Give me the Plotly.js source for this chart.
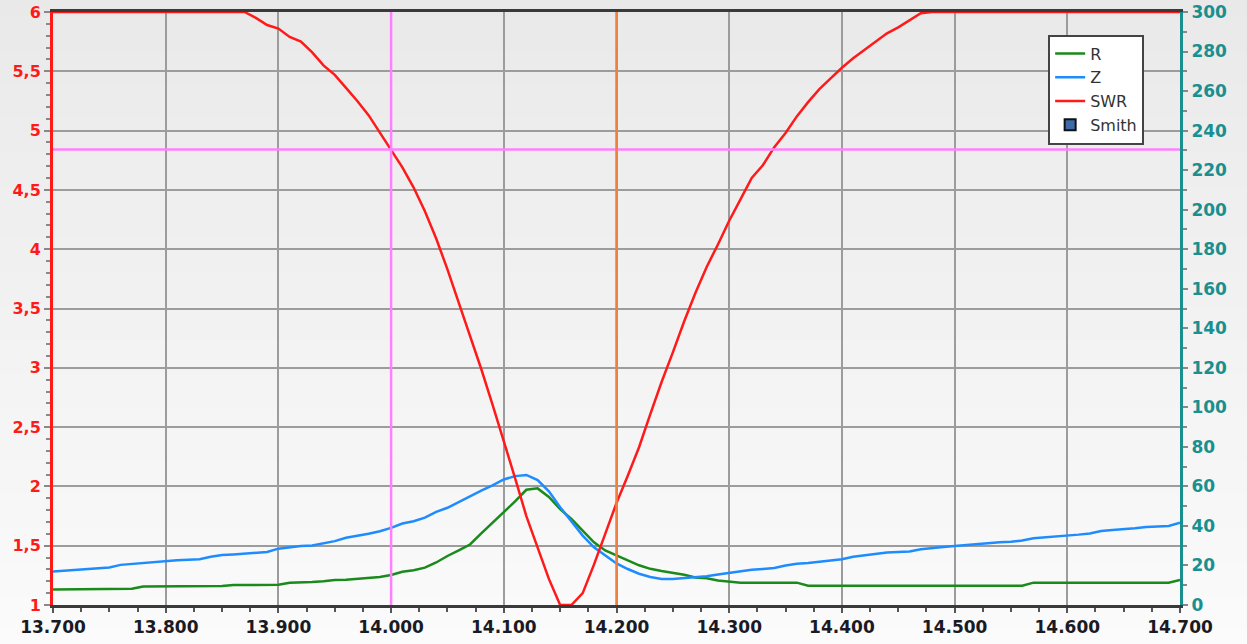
<!DOCTYPE html>
<html><head><meta charset="utf-8">
<script src="https://cdn.plot.ly/plotly-3.0.1.min.js"></script>
<style>html,body{margin:0;padding:0;background:#f0f0f0}#chart{width:1247px;height:644px}</style>
</head><body><div id="chart"></div>
<script>
// Frequency (MHz)
const freqMHz = [
13.70,13.71,13.72,13.73,13.74,13.75,13.76,13.77,13.78,13.79,
13.80,13.81,13.82,13.83,13.84,13.85,13.86,13.87,13.88,13.89,
13.90,13.91,13.92,13.93,13.94,13.95,13.96,13.97,13.98,13.99,
14.00,14.01,14.02,14.03,14.04,14.05,14.06,14.07,14.08,14.09,
14.10,14.11,14.12,14.13,14.14,14.15,14.16,14.17,14.18,14.19,
14.20,14.21,14.22,14.23,14.24,14.25,14.26,14.27,14.28,14.29,
14.30,14.31,14.32,14.33,14.34,14.35,14.36,14.37,14.38,14.39,
14.40,14.41,14.42,14.43,14.44,14.45,14.46,14.47,14.48,14.49,
14.50,14.51,14.52,14.53,14.54,14.55,14.56,14.57,14.58,14.59,
14.60,14.61,14.62,14.63,14.64,14.65,14.66,14.67,14.68,14.69,
14.70];
// SWR (left axis)
const swrValues = [
6,6,6,6,6,6,6,6,6,6,
6,6,6,6,6,6,6,6,5.95,5.89,
5.86,5.79,5.75,5.66,5.55,5.47,5.36,5.25,5.13,4.98,
4.84,4.69,4.52,4.32,4.09,3.83,3.55,3.27,2.99,2.69,
2.39,2.07,1.75,1.48,1.22,1.0,1.0,1.1,1.34,1.60,
1.86,2.09,2.33,2.61,2.88,3.13,3.39,3.63,3.85,4.04,
4.24,4.42,4.60,4.71,4.86,4.98,5.12,5.24,5.35,5.44,
5.53,5.61,5.68,5.75,5.82,5.87,5.93,5.99,6,6,
6,6,6,6,6,6,6,6,6,6,
6,6,6,6,6,6,6,6,6,6,
6];
// R (ohm, right axis)
const rValues = [
7.9,7.9,7.9,7.9,8.0,8.0,8.0,8.2,9.3,9.3,
9.3,9.4,9.4,9.5,9.5,9.6,10.1,10.1,10.1,10.1,
10.2,11.3,11.4,11.6,12.0,12.6,12.8,13.2,13.5,14.2,
15.2,16.8,17.6,18.9,21.5,24.8,27.6,30.6,36.2,41.5,
46.7,52.4,58.3,59.0,54.7,48.5,43.5,37.5,31.7,27.6,
25.3,22.6,20.1,18.3,17.2,16.4,15.3,13.9,13.5,12.4,
11.8,11.3,11.3,11.3,11.3,11.3,11.3,9.8,9.8,9.8,
9.8,9.8,9.8,9.8,9.8,9.8,9.8,9.8,9.8,9.8,
9.8,9.8,9.8,9.8,9.8,9.8,9.8,11.3,11.3,11.3,
11.3,11.3,11.3,11.3,11.3,11.3,11.3,11.3,11.3,11.3,
12.6];
// Z (ohm, right axis)
const zValues = [
17.0,17.4,17.6,17.9,18.6,19.0,20.3,20.8,21.2,21.6,
22.3,22.6,22.9,23.1,24.4,25.3,25.6,26.1,26.3,26.8,
28.5,29.2,29.9,30.1,31.1,32.3,34.0,34.9,36.0,37.3,
39.0,41.2,42.4,44.2,47.1,49.2,52.2,54.8,57.9,60.5,
63.5,65.2,65.8,63.2,57.5,49.5,42.0,35.1,29.2,25.2,
21.0,18.2,15.8,14.2,13.2,13.1,13.5,13.9,14.5,15.4,
16.2,17.0,17.8,18.2,18.7,20.0,20.9,21.3,21.9,22.6,
23.2,24.4,25.2,25.8,26.5,26.8,27.1,28.2,28.9,29.4,
29.8,30.3,30.9,31.3,31.7,32.0,32.6,33.8,34.2,34.8,
35.2,35.6,36.2,37.4,38.0,38.3,38.8,39.4,39.8,40.0,
41.6];
// Markers
const markerFreqs = [14.0, 14.2];
const swrLimit = 4.84;
// Tick labels
const swrTickVals = [1,1.5,2,2.5,3,3.5,4,4.5,5,5.5,6];
const swrTickText = ['1','1,5','2','2,5','3','3,5','4','4,5','5','5,5','6'];
const legendNames = ['R','Z','SWR','Smith'];

const FONT = 'DejaVu Sans, Verdana, sans-serif';
const traces = [
  {x: freqMHz, y: rValues, name: legendNames[0], type: 'scatter', mode: 'lines', yaxis: 'y',
   line: {color: '#1a8a1a', width: 2.5}},
  {x: freqMHz, y: zValues, name: legendNames[1], type: 'scatter', mode: 'lines', yaxis: 'y',
   line: {color: '#1e8cff', width: 2.5}},
  {x: freqMHz, y: swrValues, name: legendNames[2], type: 'scatter', mode: 'lines', yaxis: 'y2',
   line: {color: '#ff1a1a', width: 2.5}},
  {x: [null], y: [null], name: legendNames[3], type: 'scatter', mode: 'markers', yaxis: 'y',
   marker: {symbol: 'square', size: 11, color: '#3d6aa8', line: {color: '#111', width: 2}}}
];

// background gradient bands
const shapes = [];
const nb = 40;
for (let i = 0; i < nb; i++) {
  const t = i / (nb - 1);
  const c = Math.round(0xfb - (0xfb - 0xe9) * t);
  shapes.push({type: 'rect', xref: 'paper', yref: 'paper', layer: 'below',
    x0: -0.1, x1: 1.1, y0: -0.1 + 1.15 * i / nb, y1: -0.1 + 1.15 * (i + 1) / nb + 0.002,
    fillcolor: `rgb(${c},${c},${c})`, line: {width: 0}});
}
shapes.push({type: 'line', xref: 'paper', yref: 'y2', x0: 0, x1: 1, y0: swrLimit, y1: swrLimit,
  line: {color: '#ff80ff', width: 2.5}, layer: 'above'});
shapes.push({type: 'line', xref: 'x', yref: 'paper', x0: markerFreqs[0], x1: markerFreqs[0], y0: 0, y1: 1,
  line: {color: '#ff80ff', width: 2.5}, layer: 'above'});
shapes.push({type: 'line', xref: 'x', yref: 'paper', x0: markerFreqs[1], x1: markerFreqs[1], y0: 0, y1: 1,
  line: {color: '#f0803c', width: 2.5}, layer: 'above'});

const layout = {
  width: 1247, height: 644,
  margin: {l: 53, r: 67, t: 12, b: 39},
  paper_bgcolor: 'rgba(0,0,0,0)', plot_bgcolor: 'rgba(0,0,0,0)',
  font: {family: FONT},
  showlegend: true,
  legend: {x: 0.883, y: 0.962, xanchor: 'left', yanchor: 'top', bgcolor: '#ffffff',
    bordercolor: '#444', borderwidth: 2, font: {family: FONT, size: 16, color: '#333'},
    traceorder: 'normal'},
  xaxis: {range: [13.7, 14.7], tick0: 13.7, dtick: 0.1, tickformat: '.3f',
    showgrid: true, gridcolor: '#9c9c9c', gridwidth: 2, zeroline: false,
    showline: true, linecolor: '#3a3a3a', linewidth: 3, mirror: true,
    ticks: 'outside', ticklen: 5, tickcolor: '#555', tickwidth: 2,
    tickfont: {family: FONT, size: 17, color: '#1a1a24', weight: 'bold'},
    minor: {dtick: 0.025, ticks: 'outside', ticklen: 4, tickcolor: '#555', tickwidth: 2, showgrid: false}},
  yaxis: {range: [0, 300], dtick: 20, side: 'right', showgrid: false, zeroline: false,
    showline: true, linecolor: '#1a8f8f', linewidth: 3,
    ticks: 'outside', ticklen: 5, tickcolor: '#888', tickwidth: 2,
    tickfont: {family: FONT, size: 17, color: '#1a8f8f', weight: 'bold'},
    minor: {dtick: 10, ticks: 'outside', ticklen: 4, tickcolor: '#888', tickwidth: 2, showgrid: false}},
  yaxis2: {range: [1, 6], overlaying: 'y', side: 'left', tickvals: swrTickVals, ticktext: swrTickText,
    showgrid: true, gridcolor: '#9c9c9c', gridwidth: 2, zeroline: false,
    showline: true, linecolor: '#ff1a1a', linewidth: 3,
    ticks: 'outside', ticklen: 6, tickcolor: '#888', tickwidth: 2,
    tickfont: {family: FONT, size: 16, color: '#ff1a1a', weight: 'bold'},
    minor: {dtick: 0.1, ticks: 'outside', ticklen: 4, tickcolor: '#888', tickwidth: 2, showgrid: false}},
  shapes: shapes
};
Plotly.newPlot('chart', traces, layout, {displayModeBar: false, staticPlot: true});
</script>
</body></html>
